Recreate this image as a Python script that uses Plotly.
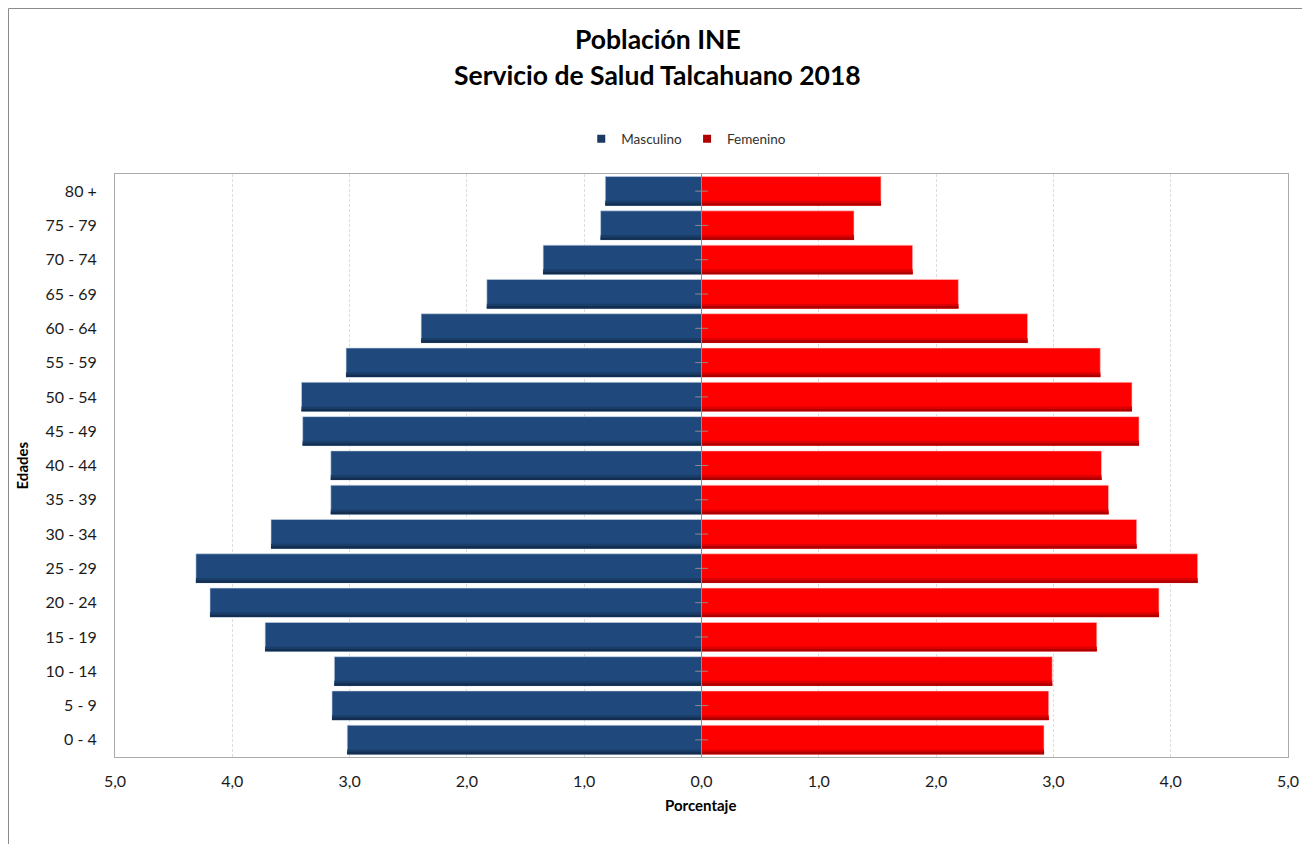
import plotly.graph_objects as go

age_groups = ["0 - 4", "5 - 9", "10 - 14", "15 - 19", "20 - 24", "25 - 29", "30 - 34",
              "35 - 39", "40 - 44", "45 - 49", "50 - 54", "55 - 59", "60 - 64",
              "65 - 69", "70 - 74", "75 - 79", "80 +"]
masculino = [3.02, 3.15, 3.13, 3.72, 4.19, 4.31, 3.67, 3.16, 3.16, 3.40, 3.41,
             3.03, 2.39, 1.83, 1.35, 0.86, 0.82]
femenino = [2.92, 2.96, 2.99, 3.37, 3.90, 4.23, 3.71, 3.47, 3.41, 3.73, 3.67,
            3.40, 2.78, 2.19, 1.80, 1.30, 1.53]
tick_vals = [-5, -4, -3, -2, -1, 0, 1, 2, 3, 4, 5]
tick_text = ["5,0", "4,0", "3,0", "2,0", "1,0", "0,0", "1,0", "2,0", "3,0", "4,0", "5,0"]

FONT = "Lato"
BLUE, BLUE_MID, BLUE_DARK = "#1F497D", "#1A3E6A", "#132E50"
RED, RED_MID, RED_DARK = "#FF0000", "#DD0000", "#AF0000"

neg_m = [-v for v in masculino]

fig = go.Figure()
fig.add_trace(go.Bar(y=age_groups, x=neg_m, orientation="h", name="Masculino",
                     marker=dict(color=BLUE, line=dict(color="#C9D5E6", width=0.6)),
                     width=0.85, customdata=masculino, showlegend=False,
                     hovertemplate="%{y}: %{customdata:.2f}%<extra>Masculino</extra>"))
fig.add_trace(go.Bar(y=age_groups, x=femenino, orientation="h", name="Femenino",
                     marker=dict(color=RED, line=dict(color="#FFC9C9", width=0.6)),
                     width=0.85, showlegend=False,
                     hovertemplate="%{y}: %{x:.2f}%<extra>Femenino</extra>"))
# darker bottom strips (Excel bevel look)
for xs, c_mid, c_dark in ((neg_m, BLUE_MID, BLUE_DARK), (femenino, RED_MID, RED_DARK)):
    fig.add_trace(go.Bar(y=age_groups, x=xs, orientation="h", showlegend=False,
                         marker=dict(color=c_mid, line=dict(width=0)),
                         width=0.14, offset=-0.42, hoverinfo="skip"))
    fig.add_trace(go.Bar(y=age_groups, x=xs, orientation="h", showlegend=False,
                         marker=dict(color=c_dark, line=dict(width=0)),
                         width=0.07, offset=-0.42, hoverinfo="skip"))
# small tick marks on the central axis
fig.add_trace(go.Scatter(y=age_groups, x=[0] * len(age_groups), mode="markers",
                         marker=dict(symbol="line-ew", size=9,
                                     line=dict(color="#8C8C8C", width=1)),
                         showlegend=False, hoverinfo="skip"))
# legend entries (small squares like Excel)
fig.add_trace(go.Scatter(x=[None], y=[None], mode="markers", name="Masculino",
                         marker=dict(symbol="square", size=8, color="#1B3A62")))
fig.add_trace(go.Scatter(x=[None], y=[None], mode="markers", name="Femenino",
                         marker=dict(symbol="square", size=8, color="#B00000")))

fig.update_layout(
    width=1302, height=836,
    margin=dict(l=107, r=22, t=166, b=87),
    paper_bgcolor="white", plot_bgcolor="white",
    barmode="overlay", bargap=0.15,
    font=dict(family=FONT, size=16, color="#1a1a1a"),
    showlegend=True,
    legend=dict(orientation="h", x=0.487, xanchor="center", y=1.06, yanchor="middle",
                font=dict(family=FONT, size=13.5, color="#303030"),
                itemwidth=30, traceorder="normal"),
    xaxis=dict(range=[-5, 5], tickvals=tick_vals, ticktext=tick_text,
               showgrid=True, gridcolor="#DDDDDD", griddash="3px,2px", gridwidth=1,
               zeroline=False, showline=True, linecolor="#ABABAB", linewidth=1,
               mirror=True, ticks="outside", ticklen=10, tickcolor="rgba(0,0,0,0)",
               tickfont=dict(family=FONT, size=16, color="#1a1a1a"), fixedrange=True),
    yaxis=dict(categoryorder="array", categoryarray=age_groups, range=[-0.5, 16.5],
               showgrid=False, zeroline=False, showline=True, linecolor="#ABABAB",
               linewidth=1, mirror=True, ticks="outside", ticklen=14,
               tickcolor="rgba(0,0,0,0)",
               tickfont=dict(family=FONT, size=16, color="#1a1a1a"), fixedrange=True),
    shapes=[
        dict(type="line", xref="x", yref="paper", x0=0, x1=0, y0=0, y1=1,
             line=dict(color="#8C8C8C", width=1), layer="above"),
        dict(type="rect", xref="paper", yref="paper", x0=-0.0908, x1=1.0171,
             y0=-0.25, y1=1.2839, line=dict(color="#8A8A8A", width=1), layer="below"),
    ],
    annotations=[
        dict(text="<b>Población INE</b>", xref="paper", yref="paper", x=0.4629,
             y=1.2316, xanchor="center", yanchor="middle", showarrow=False,
             font=dict(family=FONT, size=26.5, color="#000000")),
        dict(text="<b>Servicio de Salud Talcahuano 2018</b>", xref="paper", yref="paper",
             x=0.4629, y=1.1698, xanchor="center", yanchor="middle", showarrow=False,
             font=dict(family=FONT, size=26.5, color="#000000")),
        dict(text="<b>Edades</b>", xref="paper", yref="paper", x=-0.0793, y=0.5,
             xanchor="center", yanchor="middle", textangle=-90, showarrow=False,
             font=dict(family=FONT, size=15, color="#000000")),
        dict(text="<b>Porcentaje</b>", xref="paper", yref="paper", x=0.4995, y=-0.0823,
             xanchor="center", yanchor="middle", showarrow=False,
             font=dict(family=FONT, size=15, color="#000000")),
    ],
)

fig.write_html("out.html")
